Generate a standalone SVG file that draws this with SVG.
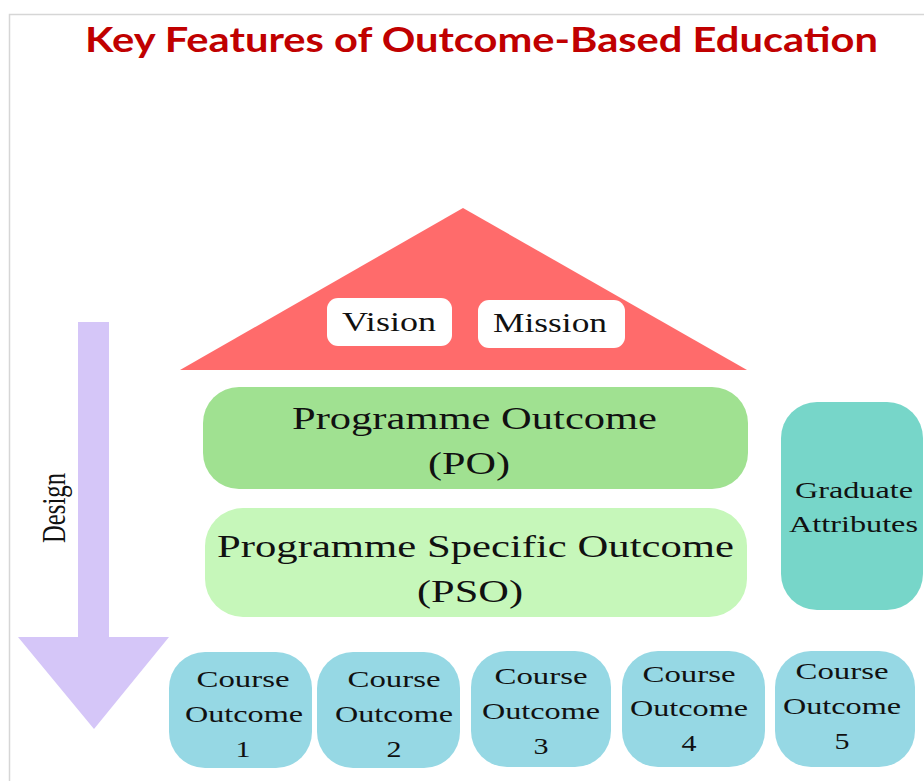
<svg xmlns="http://www.w3.org/2000/svg" width="924" height="781" viewBox="0 0 924 781">
<style>
.t{font-family:"Liberation Serif","Times New Roman",serif;fill:#111;text-anchor:middle}
.co{fill:#96D8E4}
.title{font-family:Lato,"Liberation Sans",sans-serif;font-weight:bold;fill:#C00000}
</style>
<rect x="0" y="0" width="924" height="781" fill="#fff"/>
<path d="M9.5 781 V14.5 H924" fill="none" stroke="#d6d6d6" stroke-width="1.5"/>
<text class="title" x="85" y="52" font-size="34" textLength="793" lengthAdjust="spacingAndGlyphs">Key Features of Outcome-Based Education</text>

<g id="connectors">
<g id="design-arrow">
<polygon points="78,322 109,322 109,637 169,637 94,729 18,637 78,637" fill="#D5C6F8"/>
<text class="t" transform="translate(65,508) rotate(-90)" x="0" y="0" font-size="33" textLength="70" lengthAdjust="spacingAndGlyphs">Design</text>
</g>
</g>

<g id="roof">
<polygon points="463,208 747,370 180,370" fill="#FF6B6B"/>
</g>
<g id="vision">
<rect x="327" y="298" width="125" height="48" rx="11" fill="#fff"/>
<text class="t" x="389" y="331" font-size="27" textLength="94" lengthAdjust="spacingAndGlyphs">Vision</text>
</g>
<g id="mission">
<rect x="478" y="300" width="147" height="48" rx="11" fill="#fff"/>
<text class="t" x="550" y="332" font-size="27" textLength="114" lengthAdjust="spacingAndGlyphs">Mission</text>
</g>

<g id="po">
<rect x="203" y="387" width="545" height="102" rx="36" fill="#A0E191"/>
<text class="t" x="474.5" y="429" font-size="32" textLength="365" lengthAdjust="spacingAndGlyphs">Programme Outcome</text>
<text class="t" x="469" y="474" font-size="32" textLength="82" lengthAdjust="spacingAndGlyphs">(PO)</text>
</g>

<g id="pso">
<rect x="205" y="508" width="542" height="109" rx="38" fill="#C6F7BA"/>
<text class="t" x="475.5" y="557" font-size="32" textLength="517" lengthAdjust="spacingAndGlyphs">Programme Specific Outcome</text>
<text class="t" x="470" y="602" font-size="32" textLength="106" lengthAdjust="spacingAndGlyphs">(PSO)</text>
</g>

<g id="graduate-attributes">
<rect x="781" y="402" width="142" height="208" rx="36" fill="#77D6C9"/>
<text class="t" x="854" y="498" font-size="24" textLength="118" lengthAdjust="spacingAndGlyphs">Graduate</text>
<text class="t" x="853.5" y="532" font-size="24" textLength="129" lengthAdjust="spacingAndGlyphs">Attributes</text>
</g>

<g id="co1">
<rect class="co" x="169" y="652" width="143" height="116" rx="36"/>
<text class="t" x="243" y="687" font-size="23" textLength="93" lengthAdjust="spacingAndGlyphs">Course</text>
<text class="t" x="244" y="722" font-size="23" textLength="118" lengthAdjust="spacingAndGlyphs">Outcome</text>
<text class="t" x="243" y="757" font-size="23" textLength="15" lengthAdjust="spacingAndGlyphs">1</text>
</g>
<g id="co2">
<rect class="co" x="317" y="652" width="143" height="116" rx="36"/>
<text class="t" x="394" y="687" font-size="23" textLength="93" lengthAdjust="spacingAndGlyphs">Course</text>
<text class="t" x="394" y="722" font-size="23" textLength="118" lengthAdjust="spacingAndGlyphs">Outcome</text>
<text class="t" x="394" y="757" font-size="23" textLength="15" lengthAdjust="spacingAndGlyphs">2</text>
</g>
<g id="co3">
<rect class="co" x="471" y="651" width="140" height="116" rx="36"/>
<text class="t" x="541" y="684" font-size="23" textLength="93" lengthAdjust="spacingAndGlyphs">Course</text>
<text class="t" x="541" y="719" font-size="23" textLength="118" lengthAdjust="spacingAndGlyphs">Outcome</text>
<text class="t" x="541" y="754" font-size="23" textLength="15" lengthAdjust="spacingAndGlyphs">3</text>
</g>
<g id="co4">
<rect class="co" x="622" y="651" width="143" height="116" rx="36"/>
<text class="t" x="689" y="682" font-size="23" textLength="93" lengthAdjust="spacingAndGlyphs">Course</text>
<text class="t" x="689" y="716" font-size="23" textLength="118" lengthAdjust="spacingAndGlyphs">Outcome</text>
<text class="t" x="689" y="751" font-size="23" textLength="15" lengthAdjust="spacingAndGlyphs">4</text>
</g>
<g id="co5">
<rect class="co" x="775" y="651" width="140" height="116" rx="36"/>
<text class="t" x="842" y="679" font-size="23" textLength="93" lengthAdjust="spacingAndGlyphs">Course</text>
<text class="t" x="842" y="714" font-size="23" textLength="118" lengthAdjust="spacingAndGlyphs">Outcome</text>
<text class="t" x="842" y="749" font-size="23" textLength="15" lengthAdjust="spacingAndGlyphs">5</text>
</g>
</svg>
